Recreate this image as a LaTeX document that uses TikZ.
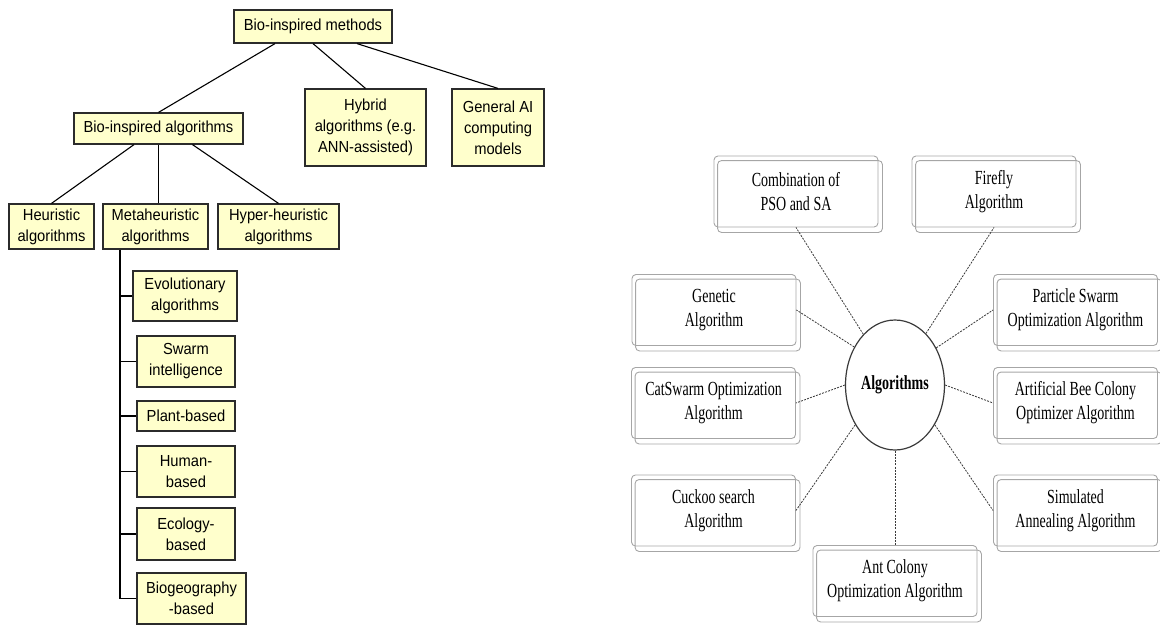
\documentclass[tikz,border=0pt]{standalone}
\usepackage{fontspec}
\newfontfamily\armfont[FakeStretch=0.92]{Liberation Sans}
\newfontfamily\tnrfont[FakeStretch=0.7]{Liberation Serif}
\usetikzlibrary{shapes.geometric}
\definecolor{Pale}{HTML}{FFFFCC}
\definecolor{Edge}{HTML}{2B2B2B}
\definecolor{Frame}{HTML}{A6A6A6}
\definecolor{Ink}{HTML}{3A3A3A}

\begin{document}
\begin{tikzpicture}[x=1pt, y=-1pt,
    ybox/.style={draw=Edge, line width=1.2pt, fill=Pale, align=center,
                 inner sep=1pt, font=\armfont\fontsize{16}{21}\selectfont},
    gbox/.style={draw=Frame, line width=0.9pt, rounded corners=4pt,
                 minimum width=164pt, minimum height=71pt, align=center,
                 font=\tnrfont\fontsize{20}{24}\selectfont},
    hub/.style={ellipse, draw=Ink, line width=1.2pt, minimum width=99pt,
                minimum height=130pt, inner sep=0pt,
                font=\tnrfont\bfseries\fontsize{20}{24}\selectfont},
    lnk/.style={draw=black, line width=1.1pt},
    dsh/.style={draw=Ink, line width=0.8pt, dash pattern=on 2pt off 1.2pt}]
  \useasboundingbox (0,0) rectangle (1160,625);
  % left: taxonomy tree
  \node[ybox, minimum width=158pt, minimum height=33pt] (bim) at (313,26.5) {Bio-inspired methods};
  \node[ybox, minimum width=169pt, minimum height=31pt] (bia) at (158.5,128.5) {Bio-inspired algorithms};
  \node[ybox, minimum width=121pt, minimum height=77pt] (hyb) at (365.5,127.5) {Hybrid\\algorithms (e.g.\\ANN-assisted)};
  \node[ybox, minimum width=92pt, minimum height=77pt]  (gai) at (498,127.5) {General AI\\computing\\models};
  \node[ybox, minimum width=85pt, minimum height=45pt]  (heu) at (51.5,226.5) {Heuristic\\algorithms};
  \node[ybox, minimum width=105pt, minimum height=45pt] (meh) at (155.5,226.5) {Metaheuristic\\algorithms};
  \node[ybox, minimum width=121pt, minimum height=45pt] (hyp) at (278.5,226.5) {Hyper-heuristic\\algorithms};
  \node[ybox, minimum width=104pt, minimum height=50pt] (evo) at (185,296) {Evolutionary\\algorithms};
  \node[ybox, minimum width=98pt, minimum height=51pt]  (swi) at (186,361.5) {Swarm\\intelligence};
  \node[ybox, minimum width=98pt, minimum height=30pt]  (plb) at (186,416) {Plant-based};
  \node[ybox, minimum width=98pt, minimum height=51pt]  (hmb) at (186,471.5) {Human-\\based};
  \node[ybox, minimum width=98pt, minimum height=52pt]  (ecb) at (186,534) {Ecology-\\based};
  \node[ybox, minimum width=109pt, minimum height=51pt] (bgb) at (191.5,598.5) {Biogeography\\-based};
  \draw[lnk] ([xshift=-38pt]bim.south) -- (bia.north);
  \draw[lnk] (bim.south) -- (hyb.north);
  \draw[lnk] ([xshift=44pt]bim.south) -- (gai.north);
  \draw[lnk] ([xshift=-24.5pt]bia.south) -- (heu.north);
  \draw[lnk] (bia.south) -- (bia.south |- meh.north);
  \draw[lnk] ([xshift=34pt]bia.south) -- (hyp.north);
  \coordinate (spn) at ([xshift=-35.5pt]meh.south);
  \draw[lnk] (spn) |- (bgb.west);
  \foreach \n in {evo,swi,plb,hmb,ecb}
    \draw[lnk] (\n.west) -- (\n.west -| spn);
  % right: algorithm hub
  \node[hub] (alg) at (895,385) {\raisebox{5pt}{Algorithms}};
  \node[gbox] (cps) at (796,191.5)   {Combination of\\PSO and SA};
  \node[gbox] (ffa) at (994,191.5)   {Firefly\\Algorithm};
  \node[gbox] (gen) at (714,310)     {Genetic\\Algorithm};
  \node[gbox] (pso) at (1075.5,310)  {Particle Swarm\\Optimization Algorithm};
  \node[gbox] (cso) at (713.5,403)   {CatSwarm Optimization\\Algorithm};
  \node[gbox] (abc) at (1075.5,403)  {Artificial Bee Colony\\Optimizer Algorithm};
  \node[gbox] (cks) at (713.5,510.5) {Cuckoo search\\Algorithm};
  \node[gbox] (sim) at (1075.5,510.5){Simulated\\Annealing Algorithm};
  \node[gbox] (aco) at (895,581)     {Ant Colony\\Optimization Algorithm};
  \foreach \n in {cps,ffa,gen,pso,cso,abc,cks,sim,aco}
    \draw[draw=Frame, line width=0.9pt, rounded corners=4pt]
      ([shift={(4,5)}]\n.north west) rectangle ([shift={(4,5)}]\n.south east);
  \draw[dsh] (alg.122) -- (cps.south);
  \draw[dsh] (alg.59)  -- (ffa.south);
  \draw[dsh] (alg.137) -- (gen.east);
  \draw[dsh] (alg.42)  -- (pso.west);
  \draw[dsh] (alg.180) -- (cso.east);
  \draw[dsh] (alg.0)   -- (abc.west);
  \draw[dsh] (alg.225) -- (cks.east);
  \draw[dsh] (alg.315) -- (sim.west);
  \draw[dsh] (alg.270) -- (aco.north);
\end{tikzpicture}
\end{document}
